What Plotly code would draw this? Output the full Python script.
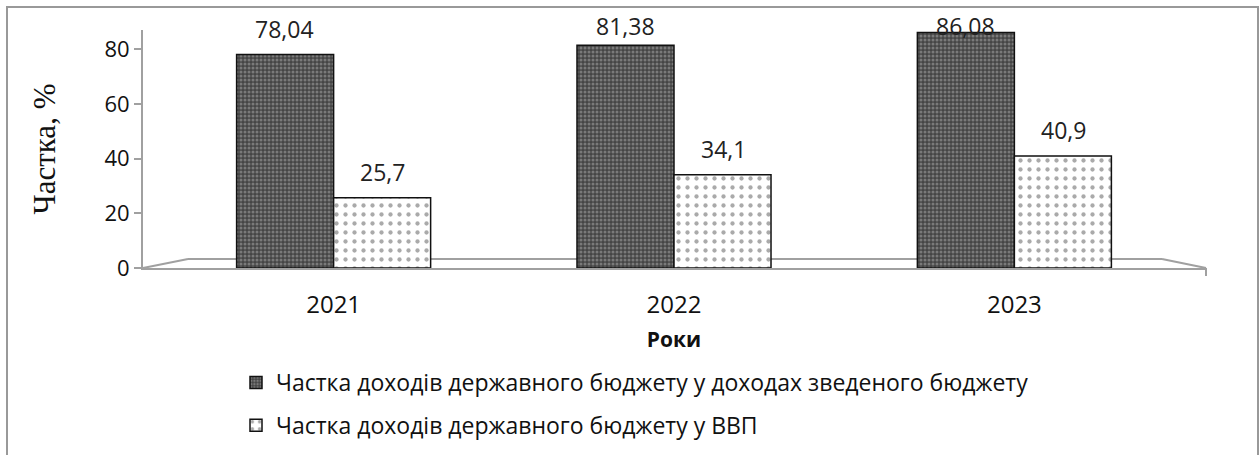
import plotly.graph_objects as go

# ---- data ----
years = ["2021", "2022", "2023"]
share_consolidated = [78.04, 81.38, 86.08]
share_gdp = [25.7, 34.1, 40.9]
series_names = [
    "Частка доходів державного бюджету у доходах зведеного бюджету",
    "Частка доходів державного бюджету у ВВП",
]
y_ticks = [0, 20, 40, 60, 80]
y_title = "Частка, %"
x_title = "Роки"

# ---- layout geometry ----
W, H = 1260, 455
ML, MR, MT, MB = 143, 55, 30, 455 - 268
PW, PH = W - ML - MR, H - MT - MB
LABEL_CEIL = 79  # labels never rise above this level (keeps them inside the chart)


def px(x):
    return (x - ML) / PW


def py(y):
    return (H - MB - y) / PH


SANS = "'Open Sans', Lato, sans-serif"
SERIF = "'Liberation Serif', 'DejaVu Serif', serif"

fig = go.Figure()
fig.add_trace(go.Bar(
    x=years, y=share_consolidated, name=series_names[0],
    marker=dict(color="#5a5a5a",
                line=dict(color="#111111", width=1.5),
                pattern=dict(shape=".", bgcolor="#454545", fgcolor="#b0b0b0",
                             size=4, solidity=0.45, fillmode="overlay")),
    legendgroup="a",
))
fig.add_trace(go.Bar(
    x=years, y=share_gdp, name=series_names[1],
    marker=dict(color="#ffffff",
                line=dict(color="#111111", width=1.5),
                pattern=dict(shape=".", bgcolor="#ffffff", fgcolor="#555555",
                             size=9, solidity=0.18, fillmode="overlay")),
    legendgroup="b",
))

# value labels
def fmt(v):
    return ("%g" % v).replace(".", ",")

for vals, shift in ((share_consolidated, -49), (share_gdp, 49)):
    for i, v in enumerate(vals):
        fig.add_annotation(x=i, y=min(v, LABEL_CEIL), xref="x", yref="y",
                           text=fmt(v), showarrow=False, xshift=shift,
                           yshift=8, yanchor="bottom",
                           font=dict(family=SANS, size=23, color="#222"))

# floor + border shapes
grey = "#a0a0a0"
floor_pts = [(143, 268), (188, 259), (1162, 259), (1206, 268)]
for (x0, y0), (x1, y1) in zip(floor_pts[:-1], floor_pts[1:]):
    fig.add_shape(type="line", xref="paper", yref="paper",
                  x0=px(x0), y0=py(y0), x1=px(x1), y1=py(y1),
                  line=dict(color=grey, width=2), layer="below")
fig.add_shape(type="line", xref="paper", yref="paper",
              x0=px(1206), y0=py(268), x1=px(1206), y1=py(276),
              line=dict(color=grey, width=2))
fig.add_shape(type="rect", xref="paper", yref="paper",
              x0=px(7), y0=py(470), x1=px(1258), y1=py(7),
              line=dict(color="#999999", width=2), layer="below")

fig.update_layout(
    width=W, height=H,
    margin=dict(l=ML, r=MR, t=MT, b=MB, autoexpand=False),
    paper_bgcolor="white", plot_bgcolor="white",
    barmode="group", bargap=0.43, bargroupgap=0,
    showlegend=True,
    legend=dict(x=px(236), y=py(361), xanchor="left", yanchor="top",
                font=dict(family=SANS, size=23, color="#111"),
                tracegroupgap=10, traceorder="grouped",
                bgcolor="rgba(0,0,0,0)"),
    xaxis=dict(
        type="category", range=[-0.56, 2.56], automargin=False,
        showline=True, linecolor=grey, linewidth=2,
        ticks="", showgrid=False,
        tickfont=dict(family=SANS, size=24, color="#111"),
        ticklabelstandoff=14,
        title=dict(text="<b>" + x_title + "</b>", standoff=14,
                   font=dict(family=SANS, size=21, color="#111")),
    ),
    yaxis=dict(
        range=[0, 87], tickvals=y_ticks, automargin=False,
        showline=True, linecolor=grey, linewidth=2,
        ticks="outside", ticklen=7, tickcolor=grey, tickwidth=2,
        showgrid=False, zeroline=False,
        tickfont=dict(family=SANS, size=22, color="#111"),
        title=dict(text=y_title, standoff=40,
                   font=dict(family=SERIF, size=31, color="#111")),
    ),
)

fig.write_html("out.html")
